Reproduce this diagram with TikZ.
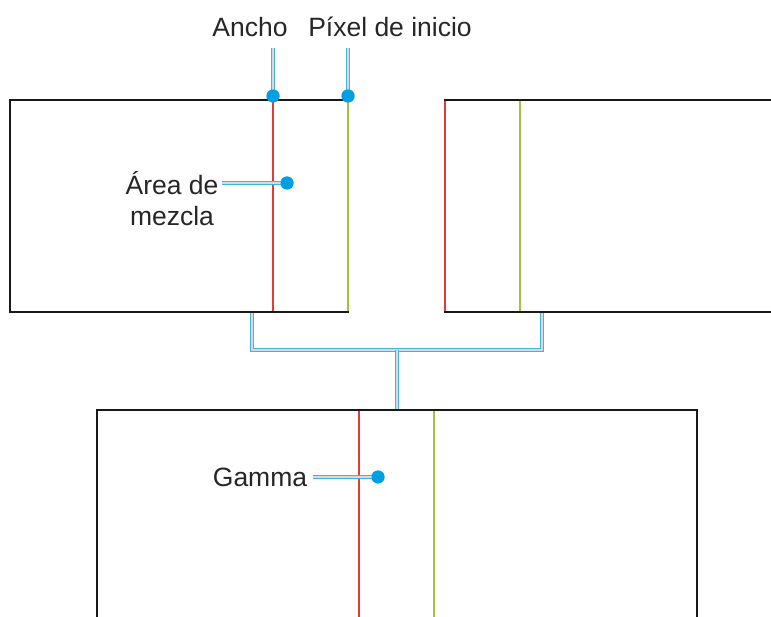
\documentclass[tikz,border=0pt]{standalone}
\usepackage{fontspec}
\setmainfont{Liberation Sans}
\usetikzlibrary{positioning,calc}
\definecolor{lred}{HTML}{E23A3A}
\definecolor{lgreen}{HTML}{9CC63E}
\definecolor{cblue}{HTML}{009FE3}
\definecolor{cline}{HTML}{3DB5E6}
\tikzset{
  frame/.style={draw=black!90, line width=2pt, inner sep=0pt, outer sep=0pt},
  redline/.style={draw=lred, line width=2.2pt},
  greenline/.style={draw=lgreen, line width=2.2pt},
  callout/.style={draw=cline, double=black!15, double distance=1.2pt, line width=1.4pt},
  dot/.style={circle, fill=cblue, minimum size=13pt, inner sep=0pt},
  lbl/.style={font=\fontsize{26.5}{31}\selectfont, text=black!85, align=center, inner sep=1pt},
}
\begin{document}
\begin{tikzpicture}[x=1pt, y=-1pt]
  \useasboundingbox (0,0) rectangle (771,617);
  \clip (0,0) rectangle (771,617);

  % the three frames
  \node[frame, minimum width=338pt, minimum height=212pt] (mixl) at (179,206) {};
  \node[frame, minimum width=360pt, minimum height=212pt] (mixr) at (625,206) {};
  \node[frame, minimum width=600pt, minimum height=260pt] (gam) at (397,540) {};

  % borders of the blend area
  \draw[redline] (273,101) -- (273,311);
  \draw[greenline] (348,101) -- (348,311);
  \draw[redline] (445,101) -- (445,311);
  \draw[greenline] (520,101) -- (520,311);
  \draw[redline] (359,411) -- (359,617);
  \draw[greenline] (434,411) -- (434,617);

  % joining the two images
  \coordinate (jl) at (252,313);
  \coordinate (jr) at (542,313);
  \coordinate (jm) at (397,350);
  \coordinate (jb) at (397,409);
  \draw[callout] (jl) |- (jm) -| (jr);
  \draw[callout] (jm) -- (jb);

  % labels
  \node[lbl] (ancho) at (250,27) {Ancho};
  \node[lbl] (pixel) at (390,27) {Píxel de inicio};
  \node[lbl] (area) at (172,199) {Área de\\mezcla};
  \node[lbl] (gamma) at (260,477) {Gamma};

  \node[dot] (dancho) at (273,96) {};
  \node[dot] (dpixel) at (348,96) {};
  \node[dot] (darea) at (287,183) {};
  \node[dot] (dgamma) at (378,477) {};

  \draw[callout] (dancho.center) -- (273,48);
  \draw[callout] (dpixel.center) -- (348,48);
  \draw[callout] (darea.center) -- (222,183);
  \draw[callout] (dgamma.center) -- (313,477);
  \node[dot] at (darea) {};
  \node[dot] at (dgamma) {};
  \node[dot] at (dancho) {};
  \node[dot] at (dpixel) {};
\end{tikzpicture}
\end{document}
